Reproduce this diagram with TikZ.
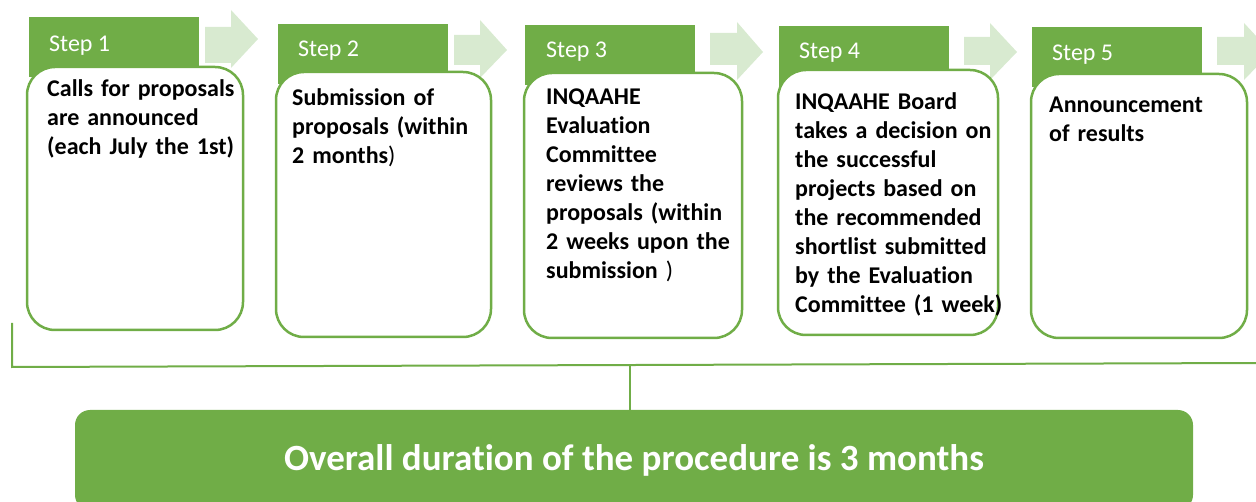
\documentclass[tikz,border=0pt]{standalone}
\usepackage{fontspec}
\setmainfont{Carlito}[Ligatures=NoCommon]
\definecolor{grn}{HTML}{70AD47}
\definecolor{lgrn}{RGB}{216,234,208}
\tikzset{
  hdr/.style={fill=grn, draw=none, anchor=north west, inner sep=0pt, outer sep=0pt, minimum width=170pt, minimum height=60pt},
  stepbox/.style={draw=grn, line width=2.5pt, fill=white, rounded corners=28pt, anchor=north west, inner sep=0pt, outer sep=0pt},
  hdrtxt/.style={text=white, font=\fontsize{24}{29}\selectfont, anchor=base west, inner sep=0pt},
  bodytxt/.style={font=\fontsize{24}{29}\selectfont\bfseries, anchor=base west, inner sep=0pt, text width=240pt, align=left},
  arr/.style={fill=lgrn, draw=none},
  brk/.style={draw=grn, line width=2pt},
}
\begin{document}
\begin{tikzpicture}[x=1pt,y=-1pt]
\useasboundingbox (0,0) rectangle (1256,502);
\clip (0,0) rectangle (1256,502);
% arrows
\fill[arr] (205,27) -- (231,27) -- (231,10) -- (258,39) -- (231,68) -- (231,63) -- (205,63) -- cycle;
\fill[arr] (454,35) -- (480,35) -- (480,20) -- (507,50) -- (480,78) -- (480,65) -- (454,65) -- cycle;
\fill[arr] (710,33) -- (737,33) -- (737,22) -- (763,52) -- (737,80) -- (737,65) -- (710,65) -- cycle;
\fill[arr] (964,37) -- (990,37) -- (990,23) -- (1017,52) -- (990,80) -- (990,65) -- (964,65) -- cycle;
\fill[arr] (1217,37) -- (1244,37) -- (1244,23) -- (1271,52) -- (1244,80) -- (1244,65) -- (1217,65) -- cycle;
% headers
\node[hdr] (h1) at (29,17) {};
\node[hdr] (h2) at (278,24) {};
\node[hdr] (h3) at (525,25) {};
\node[hdr] (h4) at (779,26) {};
\node[hdr] (h5) at (1032,27) {};
\node[hdrtxt] (s1) at (49,52) {Step 1};
\node[hdrtxt] (s2) at (298,57) {Step 2};
\node[hdrtxt] (s3) at (546,58) {Step 3};
\node[hdrtxt] (s4) at (799,59) {Step 4};
\node[hdrtxt] (s5) at (1052,61) {Step 5};
% boxes
\node[stepbox, minimum width=216pt, minimum height=263pt] (b1) at (27,67) {};
\node[stepbox, minimum width=215pt, minimum height=265pt] (b2) at (276,72) {};
\node[stepbox, minimum width=218pt, minimum height=265pt] (b3) at (524,73) {};
\node[stepbox, minimum width=220pt, minimum height=265pt] (b4) at (778,70) {};
\node[stepbox, minimum width=216pt, minimum height=264pt] (b5) at (1031,74) {};
% texts
\node[bodytxt] (t1) at (47,97) {Calls for proposals\\are announced\\(each July the 1st)};
\node[bodytxt] (t2) at (292,106) {Submission of\\proposals (within\\2 months{\mdseries )}};
\node[bodytxt] (t3) at (546,105) {INQAAHE\\Evaluation\\Committee\\reviews the\\proposals (within\\2 weeks upon the\\submission {\mdseries )}};
\node[bodytxt] (t4) at (795,110) {INQAAHE Board\\takes a decision on\\the successful\\projects based on\\the recommended\\shortlist submitted\\by the Evaluation\\Committee (1 week)};
\node[bodytxt] (t5) at (1049,113) {Announcement\\of results};
% bottom box
\node[fill=grn, rounded corners=15pt, anchor=north west, inner sep=0pt, outer sep=0pt,
      minimum width=1118pt, minimum height=100pt, text=white,
      font=\fontsize{37}{44}\selectfont\bfseries] (bot) at (75,410) {Overall duration of the procedure is 3 months};
% bracket
\coordinate (bl) at (12,323);
\coordinate (bc) at (12,367);
\coordinate (br) at (1260,363);
\coordinate (bm) at (630,365);
\draw[brk] (bl) -- (bc) -- (br);
\draw[brk] (bm) -- (bm |- bot.north);
\end{tikzpicture}
\end{document}
